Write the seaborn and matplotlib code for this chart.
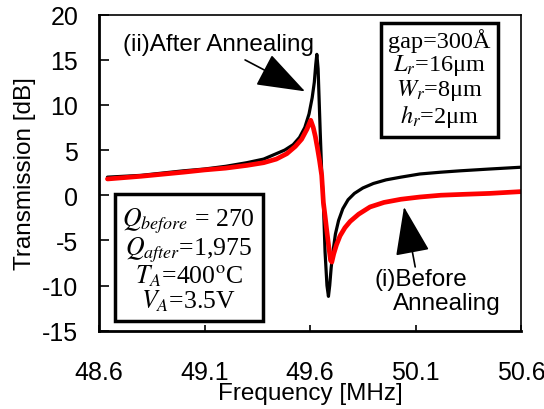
import numpy as np
import seaborn as sns
from matplotlib import pyplot as plt

# values
freq_after = [48.64, 48.8, 49.0, 49.1, 49.2, 49.3, 49.38, 49.44, 49.48, 49.52, 49.55, 49.575,
              49.595, 49.61, 49.62, 49.627, 49.632, 49.638, 49.643, 49.648, 49.655, 49.663,
              49.671, 49.68, 49.687, 49.693, 49.70, 49.71, 49.72, 49.735, 49.755, 49.78,
              49.81, 49.85, 49.90, 49.96, 50.03, 50.12, 50.22, 50.31, 50.45, 50.60]
trans_after = [2.0, 2.2, 2.7, 2.9, 3.2, 3.6, 4.0, 4.6, 5.0, 5.6, 6.4, 7.5,
               9.0, 10.8, 12.5, 14.5, 15.6, 14.0, 10.5, 7.0, 2.6, -0.8,
               -6.3, -10.0, -11.2, -10.0, -8.0, -6.0, -4.3, -2.8, -1.5, -0.5,
               0.2, 0.8, 1.3, 1.7, 2.0, 2.35, 2.55, 2.7, 2.9, 3.1]

freq_before = [48.64, 48.8, 49.0, 49.1, 49.2, 49.3, 49.38, 49.44, 49.49, 49.53, 49.56, 49.585,
               49.603, 49.615, 49.625, 49.635, 49.645, 49.655, 49.663, 49.671, 49.679, 49.688,
               49.697, 49.703, 49.712, 49.725, 49.742, 49.765, 49.79, 49.83, 49.884, 49.95,
               50.03, 50.12, 50.22, 50.33, 50.45, 50.60]
trans_before = [1.8, 2.1, 2.55, 2.8, 3.0, 3.3, 3.6, 4.0, 4.6, 5.4, 6.2, 7.3,
                8.3, 7.5, 6.5, 5.2, 3.8, 2.2, -0.8, -2.3, -3.9, -5.6,
                -7.2, -7.4, -6.5, -5.5, -4.5, -3.6, -2.9, -2.1, -1.3, -0.8,
                -0.45, -0.2, 0.0, 0.1, 0.2, 0.4]

x_ticks = [48.6, 49.1, 49.6, 50.1, 50.6]
y_ticks = [-15, -10, -5, 0, 5, 10, 15, 20]

sns.set_style("ticks")
plt.rcParams['font.family'] = ['Liberation Sans', 'DejaVu Sans']
plt.rcParams['mathtext.fontset'] = 'stix'
plt.rcParams['axes.unicode_minus'] = False
plt.rcParams['text.color'] = 'black'
plt.rcParams['axes.labelcolor'] = 'black'

fig, ax = plt.subplots(figsize=(5.44, 4.10), dpi=100)
fig.subplots_adjust(left=0.182, right=0.958, bottom=0.191, top=0.962)

sns.lineplot(x=freq_after, y=trans_after, color='black', lw=2.3, ax=ax)
sns.lineplot(x=freq_before, y=trans_before, color='#ff0000', lw=3.4, ax=ax)

ax.set_xlim(48.6, 50.6)
ax.set_ylim(-15, 20)
ax.set_xticks(x_ticks)
ax.set_xticklabels([f"{t:.1f}" for t in x_ticks])
ax.set_yticks(y_ticks)
ax.set_yticklabels([str(t) for t in y_ticks])
ax.tick_params(axis='x', direction='in', length=4, width=1.2, pad=21, labelsize=18, colors='black')
ax.tick_params(axis='y', direction='in', length=7, width=1.2, pad=15, labelsize=18, colors='black')
ax.set_xlabel("Frequency [MHz]", fontsize=17.5, labelpad=-1)
ax.set_ylabel("Transmission [dB]", fontsize=17.5, labelpad=4)

for side in ['left', 'bottom']:
    ax.spines[side].set_linewidth(2.0)
for side in ['top', 'right']:
    ax.spines[side].set_linewidth(1.2)
for s in ax.spines.values():
    s.set_color('black')

arrow = dict(arrowstyle='-|>,head_length=1.4,head_width=0.5', mutation_scale=22,
             lw=1.2, color='black', shrinkA=0, shrinkB=0)
ax.text(48.714, 16.75, "(ii)After Annealing", fontsize=17.5, ha='left', va='center')
ax.annotate("", xy=(49.576, 11.5), xytext=(49.292, 14.98), arrowprops=arrow)
ax.text(49.903, -9.27, "(i)Before", fontsize=17.5, ha='left', va='center')
ax.text(49.993, -11.93, "Annealing", fontsize=17.5, ha='left', va='center')
ax.annotate("", xy=(50.045, -1.3), xytext=(50.098, -7.94), arrowprops=arrow)

box = dict(boxstyle='square,pad=0.3', fc='white', ec='black', lw=2.5)
ax.text(0.213, 0.225,
        "$Q_{before}$ = 270\n$Q_{after}$=1,975\n$T_A$=400$^{\\rm o}$C\n$V_A$=3.5V",
        transform=ax.transAxes, ha='center', va='center', fontsize=18.5,
        family='Liberation Serif', linespacing=0.95, bbox=box)
ax.text(0.806, 0.797,
        "gap=300Å\n$L_r$=16μm\n$W_r$=8μm\n$h_r$=2μm",
        transform=ax.transAxes, ha='center', va='center', fontsize=17.5,
        family='Liberation Serif', linespacing=1.0, bbox=box)

fig.savefig("out.png", dpi=100)
